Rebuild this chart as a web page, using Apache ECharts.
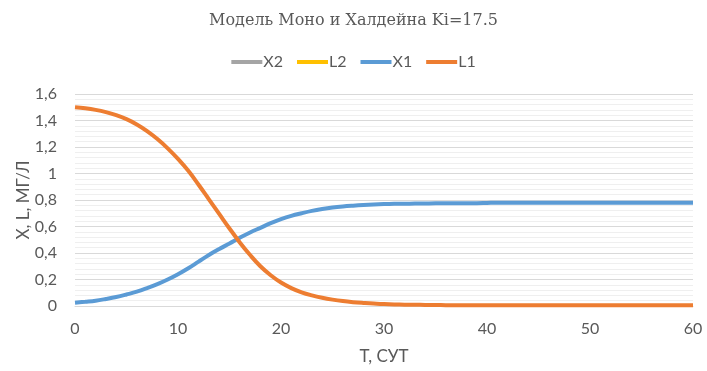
<!DOCTYPE html>
<html>
<head>
<meta charset="utf-8">
<script src="https://cdn.jsdelivr.net/npm/echarts@6/dist/echarts.min.js"></script>
<style>
  html, body { margin: 0; padding: 0; background: #fff; }
  #chart { width: 707px; height: 371px; }
</style>
</head>
<body>
<div id="chart"></div>
<script>
// время, сут
const days = [
  0, 1, 2, 3, 4, 5, 6, 7, 8, 9, 10, 11, 12, 13, 14, 15, 16, 17, 18, 19, 20,
  21, 22, 23, 24, 25, 26, 27, 28, 29, 30, 31, 32, 33, 34, 35, 36, 37, 38, 39, 40,
  41, 42, 43, 44, 45, 46, 47, 48, 49, 50, 51, 52, 53, 54, 55, 56, 57, 58, 59, 60
]
// X1 - биомасса
const x1 = [
  0.025, 0.032, 0.04, 0.053, 0.068, 0.087, 0.108, 0.135, 0.165, 0.2, 0.24,
  0.285, 0.335, 0.385, 0.43, 0.472, 0.515, 0.555, 0.59, 0.625, 0.655,
  0.68, 0.7, 0.718, 0.732, 0.743, 0.751, 0.757, 0.762, 0.766, 0.769,
  0.771, 0.772, 0.773, 0.774, 0.775, 0.775, 0.776, 0.776, 0.776, 0.778,
  0.78, 0.78, 0.78, 0.78, 0.78, 0.78, 0.78, 0.78, 0.78, 0.78,
  0.78, 0.78, 0.78, 0.78, 0.78, 0.78, 0.78, 0.78, 0.78, 0.78
]
// L1 - субстрат
const l1 = [
  1.5, 1.492, 1.48, 1.463, 1.44, 1.41, 1.37, 1.32, 1.26, 1.19, 1.11,
  1.02, 0.915, 0.805, 0.695, 0.585, 0.48, 0.385, 0.3, 0.232, 0.177,
  0.135, 0.103, 0.08, 0.062, 0.048, 0.037, 0.029, 0.023, 0.018, 0.015,
  0.012, 0.01, 0.009, 0.008, 0.007, 0.0065, 0.006, 0.006, 0.0055, 0.0055,
  0.005, 0.005, 0.005, 0.005, 0.005, 0.005, 0.005, 0.005, 0.005, 0.005,
  0.005, 0.005, 0.005, 0.005, 0.005, 0.005, 0.005, 0.005, 0.005, 0.005
]
const x2 = []
const l2 = []

const font = "Lato, 'Liberation Sans', sans-serif"
const grey = '#595959'

function makeSeries(name, xs, ys, color) {
  return {
    name: name,
    type: 'line',
    data: xs.map((t, i) => [t, ys[i]]),
    smooth: 0.4,
    showSymbol: false,
    symbol: 'none',
    lineStyle: { width: 4, color: color },
    itemStyle: { color: color }
  }
}

const myChart = echarts.init(document.getElementById('chart'))
const option = {
  animation: false,
  title: {
    text: 'Модель Моно и Халдейна Ki=17.5',
    left: 'center',
    top: 8,
    textStyle: {
      fontFamily: "'DejaVu Serif', serif",
      fontWeight: 'normal',
      fontSize: 16,
      color: grey
    }
  },
  legend: {
    data: ['X2', 'L2', 'X1', 'L1'],
    top: 49,
    left: 'center',
    icon: 'rect',
    itemWidth: 31,
    itemHeight: 4,
    itemGap: 14,
    textStyle: { fontFamily: font, fontSize: 16, color: grey, padding: [0, 0, 0, -4] }
  },
  grid: {
    left: 75,
    right: 14,
    top: 94,
    bottom: 65
  },
  xAxis: {
    type: 'value',
    min: 0,
    max: 60,
    interval: 10,
    name: 'T, СУТ',
    nameLocation: 'middle',
    nameGap: 42,
    nameTextStyle: { fontFamily: font, fontSize: 17, color: grey },
    axisLine: { show: true, lineStyle: { color: '#d9d9d9' } },
    axisTick: { show: false },
    splitLine: { show: false },
    axisLabel: { fontFamily: font, fontSize: 16, color: grey, margin: 15 }
  },
  yAxis: {
    type: 'value',
    min: 0,
    max: 1.6,
    interval: 0.2,
    name: 'X, L, МГ/Л',
    nameLocation: 'middle',
    nameGap: 43,
    nameMoveOverlap: false,
    nameTextStyle: { fontFamily: font, fontSize: 17, color: grey },
    axisLine: { show: false },
    axisTick: { show: false },
    axisLabel: {
      fontFamily: font,
      fontSize: 16,
      color: grey,
      margin: 18,
      formatter: v => String(Math.round(v * 10) / 10).replace('.', ',')
    },
    splitLine: { show: true, lineStyle: { color: '#d9d9d9', width: 1 } },
    minorTick: { show: false, splitNumber: 5 },
    minorSplitLine: { show: true, lineStyle: { color: '#efefef', width: 1 } }
  },
  series: [
    makeSeries('X2', days, x2, '#a5a5a5'),
    makeSeries('L2', days, l2, '#ffc000'),
    makeSeries('X1', days, x1, '#5b9bd5'),
    makeSeries('L1', days, l1, '#ed7d31')
  ]
}
myChart.setOption(option)
</script>
</body>
</html>
